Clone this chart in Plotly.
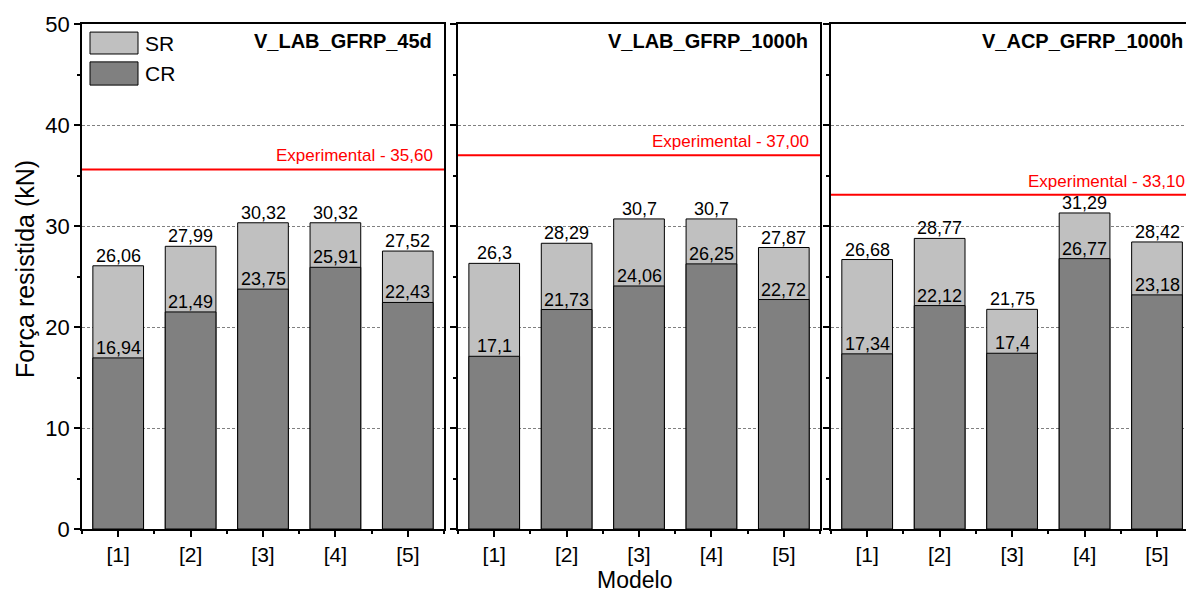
import plotly.graph_objects as go

# Data
modelos = [1, 2, 3, 4, 5]
modelo_labels = ["[1]", "[2]", "[3]", "[4]", "[5]"]
paineis = ["V_LAB_GFRP_45d", "V_LAB_GFRP_1000h", "V_ACP_GFRP_1000h"]

sr_45d = [26.06, 27.99, 30.32, 30.32, 27.52]
cr_45d = [16.94, 21.49, 23.75, 25.91, 22.43]

sr_lab_1000h = [26.3, 28.29, 30.7, 30.7, 27.87]
cr_lab_1000h = [17.1, 21.73, 24.06, 26.25, 22.72]

sr_acp_1000h = [26.68, 28.77, 21.75, 31.29, 28.42]
cr_acp_1000h = [17.34, 22.12, 17.4, 26.77, 23.18]

experimental = [35.60, 37.00, 33.10]

FONT = "Liberation Sans, Arial, sans-serif"
SR_COLOR = "#c0c0c0"
CR_COLOR = "#808080"


def fmt(v):
    # Portuguese decimal comma, no trailing zeros
    return f"{v:g}".replace(".", ",")


fig = go.Figure()

series = [(sr_45d, cr_45d), (sr_lab_1000h, cr_lab_1000h), (sr_acp_1000h, cr_acp_1000h)]
axis_ids = ["", "2", "3"]
# plot area runs from x=82 to the right edge; the third panel is cut by the edge
domains = [[0.0, 0.3279], [0.3406, 0.6685], [0.6784, 1.0]]
x_ranges = [[0.5, 5.5], [0.5, 5.5], [0.5, 5.4]]

annotations = []
shapes = []

for i, (sr, cr) in enumerate(series):
    ax = axis_ids[i]
    xref = "x" + ax
    yref = "y" + ax
    fig.add_trace(go.Bar(x=modelos, y=sr, name="SR", width=0.7,
                         marker=dict(color=SR_COLOR, line=dict(color="#000000", width=1)),
                         xaxis=xref, yaxis=yref, showlegend=False))
    fig.add_trace(go.Bar(x=modelos, y=cr, name="CR", width=0.7,
                         marker=dict(color=CR_COLOR, line=dict(color="#000000", width=1)),
                         xaxis=xref, yaxis=yref, showlegend=False))

    # value labels
    for m, s, c in zip(modelos, sr, cr):
        annotations.append(dict(x=m, y=s, xref=xref, yref=yref, text=fmt(s), showarrow=False,
                                yanchor="bottom", yshift=-2, font=dict(size=18, color="#000000", family=FONT)))
        annotations.append(dict(x=m, y=c, xref=xref, yref=yref, text=fmt(c), showarrow=False,
                                yanchor="bottom", yshift=-2, font=dict(size=18, color="#000000", family=FONT)))

    # experimental line
    shapes.append(dict(type="line", xref=xref + " domain", yref=yref, x0=0, x1=1,
                       y0=experimental[i], y1=experimental[i], line=dict(color="#ff0000", width=2)))
    annotations.append(dict(x=1, y=experimental[i], xref=xref + " domain", yref=yref,
                            text="Experimental - " + f"{experimental[i]:.2f}".replace(".", ","),
                            showarrow=False, xanchor="right", yanchor="bottom",
                            xshift=-9 if i < 2 else 1, yshift=2,
                            font=dict(size=17, color="#ff0000", family=FONT)))

    # panel title
    annotations.append(dict(x=1, y=1, xref=xref + " domain", yref=yref + " domain", text="<b>" + paineis[i] + "</b>",
                            showarrow=False, xanchor="right", yanchor="top",
                            xshift=-10 if i < 2 else -1, yshift=-4,
                            font=dict(size=20, color="#000000", family=FONT)))

    xaxis = dict(domain=domains[i], range=x_ranges[i], tickmode="array", tickvals=modelos, ticktext=modelo_labels,
                 ticks="outside", ticklen=6, tickwidth=1.5, tickcolor="#000000",
                 minor=dict(tickmode="array", tickvals=[0.5, 1.5, 2.5, 3.5, 4.5, 5.5], ticks="outside",
                            ticklen=3, tickwidth=1.5, tickcolor="#000000"),
                 showline=True, linecolor="#000000", linewidth=1.5, mirror=True,
                 showgrid=False, zeroline=False, anchor=yref,
                 tickfont=dict(size=21, color="#000000", family=FONT))
    # the third panel runs off the right edge, so no right-hand frame line there
    yaxis = dict(range=[0, 50], dtick=10, ticks="outside", ticklen=6, tickwidth=1.5, tickcolor="#000000",
                 minor=dict(dtick=5, ticks="outside", ticklen=3, tickwidth=1.5, tickcolor="#000000"),
                 showline=True, linecolor="#000000", linewidth=1.5, mirror=(i < 2),
                 showgrid=True, gridcolor="#808080", griddash="3px,2px", gridwidth=1,
                 zeroline=False, anchor=xref, showticklabels=(i == 0),
                 tickfont=dict(size=22, color="#000000", family=FONT))
    fig.update_layout({"xaxis" + ax: xaxis, "yaxis" + ax: yaxis})

# legend drawn by hand to get the wide swatches
for name, color, y0, y1 in [("SR", SR_COLOR, 0.9406, 0.984), ("CR", CR_COLOR, 0.879, 0.925)]:
    shapes.append(dict(type="rect", xref="x domain", yref="y domain", x0=0.0221, x1=0.1547, y0=y0, y1=y1,
                       fillcolor=color, line=dict(color="#000000", width=1)))
    annotations.append(dict(x=0.1685, y=(y0 + y1) / 2, xref="x domain", yref="y domain", text=name,
                            showarrow=False, xanchor="left", yanchor="middle",
                            font=dict(size=21, color="#000000", family=FONT)))

# axis titles
annotations.append(dict(x=0.5, y=-0.101, xref="paper", yref="paper", text="Modelo", showarrow=False,
                        xanchor="center", yanchor="middle", font=dict(size=23, color="#000000", family=FONT)))
annotations.append(dict(x=-0.0516, y=0.515, xref="paper", yref="paper", text="Força resistida (kN)",
                        showarrow=False, textangle=-90, xanchor="center", yanchor="middle",
                        font=dict(size=25, color="#000000", family=FONT)))

fig.update_layout(
    width=1186, height=593, autosize=False,
    margin=dict(l=82, r=0, t=24, b=64),
    barmode="overlay",
    plot_bgcolor="#ffffff", paper_bgcolor="#ffffff",
    font=dict(family=FONT, color="#000000"),
    showlegend=False,
    annotations=annotations,
    shapes=shapes,
)

# drop the page margin so the figure fills the window exactly (no scrollbars)
fig.write_html("out.html", config={"displayModeBar": False},
               post_script="document.body.style.margin = '0';")
